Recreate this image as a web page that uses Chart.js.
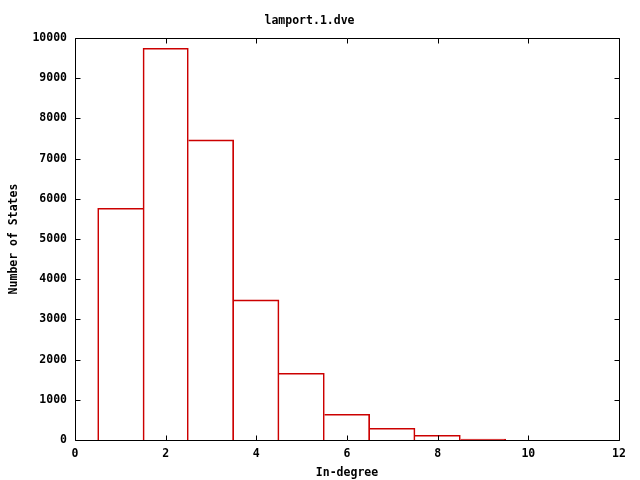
<!DOCTYPE html>
<html>
<head>
<meta charset="utf-8">
<script src="https://cdn.jsdelivr.net/npm/chart.js@4/dist/chart.umd.min.js"></script>
<style>
  body { margin: 0; background: #fff; }
  canvas { display: block; }
</style>
</head>
<body>
<canvas id="chart" width="640" height="480"></canvas>
<script>
// --- Dados ---
const degrees = [1, 2, 3, 4, 5, 6, 7, 8, 9];
const stateCounts = [5765, 9745, 7465, 3485, 1660, 640, 292, 118, 25];
const xTicks = [0, 2, 4, 6, 8, 10, 12];
const yTicks = [0, 1000, 2000, 3000, 4000, 5000, 6000, 7000, 8000, 9000, 10000];

const monoFont = { family: '"DejaVu Sans Mono", "Liberation Mono", monospace', size: 11.5, weight: 'bold', lineHeight: '13px' };
const barRed = 'rgb(204,0,0)';

// aresta comum desenhada só pela barra mais alta (contorno simples, como no gnuplot)
const barBorder = ctx => {
  const i = ctx.dataIndex;
  const v = stateCounts[i];
  const prev = i > 0 ? stateCounts[i - 1] : -1;
  const next = i < stateCounts.length - 1 ? stateCounts[i + 1] : -1;
  return { top: 1, bottom: 0, left: prev >= v ? 0 : 1, right: next > v ? 0 : 1 };
};

// moldura e ticks para dentro, nos quatro lados (estilo gnuplot)
const framePlugin = {
  id: 'frame',
  afterDatasetsDraw(chart) {
    const { ctx, chartArea: a, scales: { x, y } } = chart;
    const L = Math.round(a.left) + 0.5, R = Math.round(a.right) + 0.5;
    const T = Math.round(a.top) + 0.5, B = Math.round(a.bottom) + 0.5;
    const len = 5;
    ctx.save();
    ctx.strokeStyle = '#000';
    ctx.lineWidth = 1;
    ctx.beginPath();
    ctx.rect(L, T, R - L, B - T);
    x.ticks.forEach(t => {
      const px = Math.round(x.getPixelForValue(t.value)) + 0.5;
      ctx.moveTo(px, B); ctx.lineTo(px, B - len);
      ctx.moveTo(px, T); ctx.lineTo(px, T + len);
    });
    y.ticks.forEach(t => {
      const py = Math.round(y.getPixelForValue(t.value)) + 0.5;
      ctx.moveTo(L, py); ctx.lineTo(L + len, py);
      ctx.moveTo(R, py); ctx.lineTo(R - len, py);
    });
    ctx.stroke();
    ctx.restore();
  }
};

new Chart(document.getElementById('chart'), {
  type: 'bar',
  data: {
    datasets: [{
      label: 'lamport.1.dve',
      data: degrees.map((d, i) => ({ x: d, y: stateCounts[i] })),
      backgroundColor: 'rgba(0,0,0,0)',
      borderColor: barRed,
      borderWidth: barBorder,
      borderSkipped: false,
      barPercentage: 1,
      categoryPercentage: 1
    }]
  },
  options: {
    responsive: false,
    animation: false,
    layout: { padding: { right: 21, left: 0, bottom: 0 } },
    plugins: {
      legend: { display: false },
      tooltip: { enabled: false },
      title: {
        display: true,
        text: 'lamport.1.dve',
        color: '#000',
        font: monoFont,
        padding: { top: 15, bottom: 10 }
      }
    },
    scales: {
      x: {
        type: 'linear',
        min: 0,
        max: 12,
        offset: false,
        afterBuildTicks: s => { s.ticks = xTicks.map(v => ({ value: v })); },
        afterFit: s => { s.height = 40; },
        grid: { display: false, drawTicks: false },
        border: { display: false },
        ticks: { color: '#000', font: monoFont, padding: 8, maxRotation: 0, callback: v => String(v) },
        title: { display: true, text: 'In-degree', color: '#000', font: monoFont, padding: { top: 0, bottom: 0 } }
      },
      y: {
        min: 0,
        max: 10000,
        afterBuildTicks: s => { s.ticks = yTicks.map(v => ({ value: v })); },
        afterFit: s => { s.width = 75; },
        grid: { display: false, drawTicks: false },
        border: { display: false },
        ticks: { color: '#000', font: monoFont, padding: 8, callback: v => String(v) },
        title: { display: true, text: 'Number of States', color: '#000', font: monoFont, padding: { top: 7.5, bottom: 0 } }
      }
    }
  },
  plugins: [framePlugin]
});
</script>
</body>
</html>
